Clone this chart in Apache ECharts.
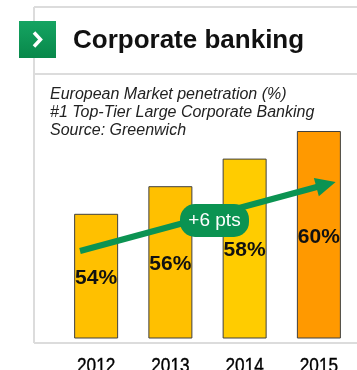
<!DOCTYPE html>
<html>
<head>
<meta charset="utf-8">
<script src="https://cdn.jsdelivr.net/npm/echarts@6/dist/echarts.min.js"></script>
<style>
html,body{margin:0;padding:0;background:#fff;}
#c{width:357px;height:370px;}
</style>
</head>
<body>
<div id="c"></div>
<script>
var years = ['2012', '2013', '2014', '2015'];
var penetration = [54, 56, 58, 60];
var barColors = ['#FFC000', '#FFC000', '#FFCC00', '#FF9900'];
var titleText = 'Corporate banking';
var subtitleLines = ['European Market penetration (%)', '#1 Top-Tier Large Corporate Banking', 'Source: Greenwich'];
var badgeText = '+6 pts';

var chart = echarts.init(document.getElementById('c'), null, {renderer: 'canvas'});
var border = '#dcdcdc';
var green = '#0B9352';

var staticGraphics = [
  {id: 'bt', type: 'line', shape: {x1: 34, y1: 7, x2: 357, y2: 7}, style: {stroke: border, lineWidth: 2}, z: 1},
  {id: 'bs', type: 'line', shape: {x1: 34, y1: 74, x2: 357, y2: 74}, style: {stroke: border, lineWidth: 2}, z: 1},
  {id: 'bb', type: 'line', shape: {x1: 34, y1: 343, x2: 357, y2: 343}, style: {stroke: border, lineWidth: 2}, z: 1},
  {id: 'bl', type: 'line', shape: {x1: 34, y1: 7, x2: 34, y2: 343}, style: {stroke: border, lineWidth: 2}, z: 1},
  {id: 'sq', type: 'rect', shape: {x: 19, y: 21, width: 37, height: 37},
    style: {
      fill: new echarts.graphic.LinearGradient(0, 0, 0, 1, [{offset: 0, color: '#15A462'}, {offset: 1, color: '#08884A'}]),
      shadowBlur: 3, shadowColor: 'rgba(0,0,0,0.35)', shadowOffsetX: 1, shadowOffsetY: 1
    }, z: 5},
  {id: 'chev', type: 'polyline', shape: {points: [[34, 32.5], [40.5, 39.5], [34, 46.5]]},
    style: {stroke: '#fff', lineWidth: 3.5, fill: null, lineJoin: 'miter'}, z: 6},
  {id: 'title', type: 'text', x: 73, y: 41, z: 5,
    style: {text: titleText, font: 'bold 26px "Liberation Sans", Arial, sans-serif', fill: '#111', textVerticalAlign: 'middle'}},
  {id: 'sub', type: 'text', x: 50, y: 86, z: 5,
    style: {text: subtitleLines.join('\n'), font: 'italic 16px "Liberation Sans", Arial, sans-serif', fill: '#222', lineHeight: 17.8}},
  {id: 'pill', type: 'rect', shape: {x: 180, y: 204, width: 69, height: 33, r: 15}, style: {fill: green}, z: 100},
  {id: 'pillt', type: 'text', x: 214.5, y: 220.5, z: 101,
    style: {text: badgeText, font: '19px "Liberation Sans", Arial, sans-serif', fill: '#fff', textAlign: 'center', textVerticalAlign: 'middle'}}
];

var option = {
  animation: false,
  backgroundColor: '#fff',
  grid: {left: 59, right: 1, top: 131, bottom: 32},
  xAxis: {
    type: 'category',
    data: years,
    axisLine: {show: false},
    axisTick: {show: false},
    axisLabel: {show: false}
  },
  yAxis: {
    type: 'value',
    min: 45,
    max: 60,
    show: false,
    splitLine: {show: false}
  },
  series: [{
    type: 'bar',
    barWidth: 44,
    z: 2,
    data: penetration.map(function (v, i) {
      return {value: v, itemStyle: {color: barColors[i]}};
    }),
    itemStyle: {borderColor: '#404040', borderWidth: 1},
    label: {
      show: true,
      position: 'inside',
      offset: [0, 2],
      formatter: '{c}%',
      fontFamily: '"Liberation Sans", Arial, sans-serif',
      fontWeight: 'bold',
      fontSize: 21,
      color: '#111'
    },
    markLine: {
      silent: true,
      symbol: ['none', 'triangle'],
      symbolSize: [19, 20],
      label: {show: false},
      lineStyle: {color: green, width: 6, type: 'solid'},
      data: [[{x: 80, y: 251}, {x: 326, y: 184.5}]]
    }
  }],
  graphic: staticGraphics
};
chart.setOption(option);

// year labels placed through the category axis scale, drawn narrow
var yearLabels = years.map(function (y, i) {
  var px = chart.convertToPixel({xAxisIndex: 0}, y);
  var base = chart.convertToPixel({yAxisIndex: 0}, 45);
  return {
    id: 'yl' + i, type: 'text', x: px, y: base + 18, z: 5,
    scaleX: 0.82,
    style: {text: y, font: '21px "Liberation Sans", Arial, sans-serif', fill: '#000', stroke: '#000', lineWidth: 0.4, textAlign: 'center', textVerticalAlign: 'top'}
  };
});
chart.setOption({graphic: staticGraphics.concat(yearLabels)});
</script>
</body>
</html>
